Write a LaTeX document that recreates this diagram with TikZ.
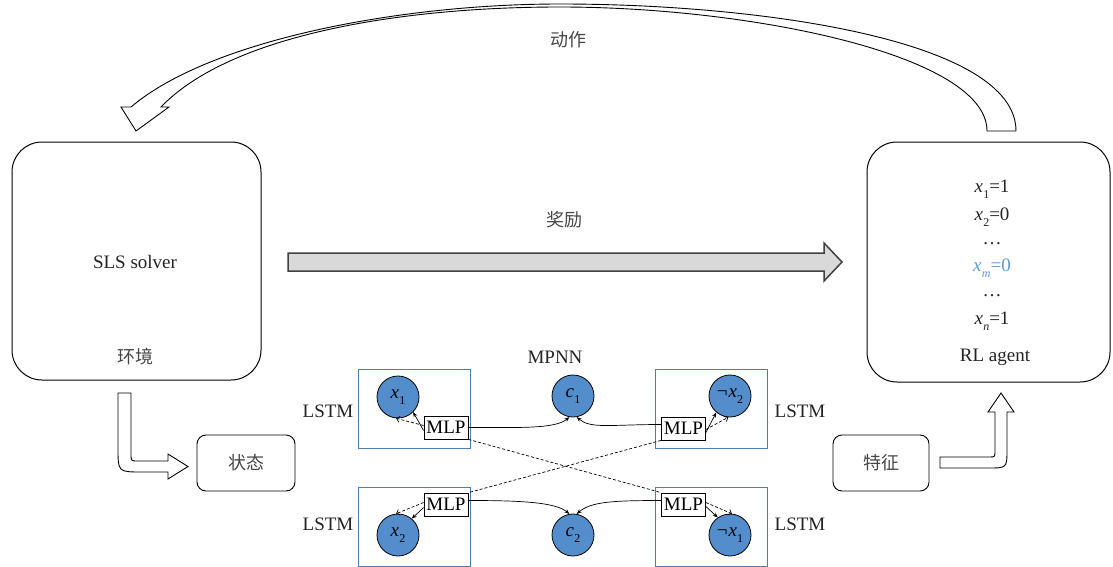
\documentclass[tikz,border=0pt]{standalone}
\usepackage{fontspec}
\setmainfont{Liberation Serif}
\newfontfamily\cjk{Noto Sans CJK SC}
\usetikzlibrary{arrows.meta}
\definecolor{nodeblue}{RGB}{84,141,204}
\definecolor{boxblue}{RGB}{79,124,172}
\definecolor{txtblue}{RGB}{91,155,213}
\definecolor{arrgray}{RGB}{217,217,217}
\definecolor{arredge}{RGB}{64,64,64}
\definecolor{cjkgray}{RGB}{70,70,70}
\definecolor{txtdark}{RGB}{35,35,35}
\newcommand\vsub[2]{\textit{#1}\kern0.3pt\raisebox{-0.3em}{\fontsize{12}{12}\selectfont#2}}
\tikzset{
  bigbox/.style={draw, line width=1pt, rounded corners=30pt, minimum width=249pt, minimum height=238pt, inner sep=0pt},
  smallbox/.style={draw, line width=0.9pt, rounded corners=9pt, minimum width=98pt, minimum height=56pt, inner sep=0pt},
  lstmbox/.style={draw=boxblue, line width=1pt, minimum width=112pt, minimum height=79pt, inner sep=0pt},
  vnode/.style={circle, draw=black, line width=0.8pt, fill=nodeblue, minimum size=42pt, inner sep=0pt},
  mlpbox/.style={draw, line width=0.8pt, fill=white, minimum width=44pt, minimum height=23pt, inner sep=0pt},
  txt/.style={text=txtdark, inner sep=0pt},
  cjktxt/.style={text=cjkgray, inner sep=0pt, font=\cjk\fontsize{18}{20}\selectfont},
  hollow/.style={draw=black, line width=0.9pt, fill=white, line join=miter},
  solidarr/.style={line width=0.7pt, -{Stealth[length=5pt,width=4pt]}},
  dasharr/.style={line width=0.7pt, dash pattern=on 3pt off 2pt, -{Straight Barb[length=3pt,width=6pt]}},
  dashline/.style={line width=0.7pt, dash pattern=on 3pt off 2pt},
}
\begin{document}
\begin{tikzpicture}[x=1pt,y=-1pt, font=\fontsize{19}{22}\selectfont]
\useasboundingbox (0,0) rectangle (1113,567);

% main boxes
\node[bigbox] (sls) at (136.5,261) {};
\node[txt] (slst) at (135,262) {SLS solver};
\node[cjktxt] (env) at (135,357) {环境};

\node[bigbox, minimum width=243pt, minimum height=240pt] (rl) at (988.5,262) {};
\node[txt] (r1) at (992,189) {\vsub{x}{1}=1};
\node[txt] (r2) at (992,217) {\vsub{x}{2}=0};
\node[txt] (r3) at (992,244) {\dots};
\node[txt, text=txtblue] (r4) at (992,268) {\vsub{x}{\textit{m}}=0};
\node[txt] (r5) at (992,296) {\dots};
\node[txt] (r6) at (992,321) {\vsub{x}{\textit{n}}=1};
\node[txt] (r7) at (995,357) {RL agent};

% reward arrow
\draw[fill=arrgray, draw=arredge, line width=1.5pt, line join=miter]
  (288,253) -- (824,253) -- (824,243) -- (842,262) -- (824,281) -- (824,271) -- (288,271) -- cycle;
\node[cjktxt] (rew) at (564,220) {奖励};

% action arrow (curved, hollow)
\draw[hollow]
  (987,131) -- (1016,131)
  .. controls (1016,40) and (760,4) .. (560,4)
  .. controls (400,4) and (210,40) .. (131,107)
  -- (121,107) -- (136,131) -- (169,107) -- (161,107)
  .. controls (230,35) and (400,7) .. (560,7)
  .. controls (750,7) and (987,55) .. (987,131) -- cycle;
\node[cjktxt] (act) at (568,40) {动作};

% state / feature boxes
\node[smallbox] (state) at (246,463) {};
\node[cjktxt] (statet) at (246,463) {状态};
\node[smallbox, minimum width=96pt] (feat) at (881,463) {};
\node[cjktxt] (featt) at (881,463) {特征};

% hollow arrow SLS -> state
\draw[hollow]
  (118,393) -- (118,448) .. controls (118,472) .. (142,472) -- (168,472) -- (168,479)
  -- (188,466.5) -- (168,454) -- (168,461) -- (138,461) .. controls (131,461) .. (131,454)
  -- (131,393) -- cycle;

% hollow arrow feature -> RL
\draw[hollow]
  (940,457) -- (989,457) .. controls (995,457) .. (995,451) -- (995,412) -- (988,412)
  -- (1001,393) -- (1014,412) -- (1007,412) -- (1007,449) .. controls (1007,468) .. (988,468)
  -- (940,468) -- cycle;

% GNN part
\node[lstmbox] (l1) at (414,408.5) {};
\node[lstmbox] (l2) at (711.5,408.5) {};
\node[lstmbox] (l3) at (414,526.5) {};
\node[lstmbox] (l4) at (711.5,526.5) {};

\node[vnode] (x1) at (398,397) {\vsub{x}{1}};
\node[vnode] (c1) at (573,396) {\vsub{c}{1}};
\node[vnode] (nx2) at (730,396) {¬\kern1pt\vsub{x}{2}};
\node[vnode] (x2) at (398,535) {\vsub{x}{2}};
\node[vnode] (c2) at (573,535) {\vsub{c}{2}};
\node[vnode] (nx1) at (730,535) {¬\kern1pt\vsub{x}{1}};

\node[mlpbox] (m1) at (446,427.5) {MLP};
\node[mlpbox] (m2) at (683.5,428.5) {MLP};
\node[mlpbox] (m3) at (446,504.5) {MLP};
\node[mlpbox] (m4) at (683.5,504.5) {MLP};

\node[txt] (mpnn) at (555,357) {MPNN};
\node[txt] (ls1) at (328,411) {LSTM};
\node[txt] (ls2) at (800,411) {LSTM};
\node[txt] (ls3) at (328,524) {LSTM};
\node[txt] (ls4) at (800,524) {LSTM};

% connectors
\draw[dashline] (m1.south east) -- (m4.north west);
\draw[dashline] (m2.south west) -- (m3.north east);

\draw[solidarr] ([yshift=-3pt]m1.west) -- (x1.-45);
\draw[dasharr] ([yshift=2pt]m1.west) -- (x1.-95);
\draw[solidarr] (m1.east) .. controls +(50,0) and +(-14,12) .. (c1.-100);
\draw[solidarr] ([yshift=4pt]m2.west) .. controls +(-50,0) and +(14,12) .. (c1.-80);
\draw[solidarr] ([yshift=-4pt]m2.east) -- (nx2.-130);
\draw[dasharr] ([yshift=-1pt]m2.east) -- (nx2.-95);

\draw[solidarr] ([yshift=-3pt]m3.west) -- (x2.50);
\draw[dasharr] ([yshift=2pt]m3.west) -- (x2.95);
\draw[solidarr] ([yshift=4pt]m3.east) .. controls +(50,0) and +(-14,-12) .. (c2.100);
\draw[solidarr] ([yshift=4pt]m4.west) .. controls +(-50,0) and +(14,-12) .. (c2.80);
\draw[solidarr] ([yshift=-2pt]m4.east) -- (nx1.125);
\draw[dasharr] ([yshift=2pt]m4.east) -- (nx1.85);
\end{tikzpicture}
\end{document}
